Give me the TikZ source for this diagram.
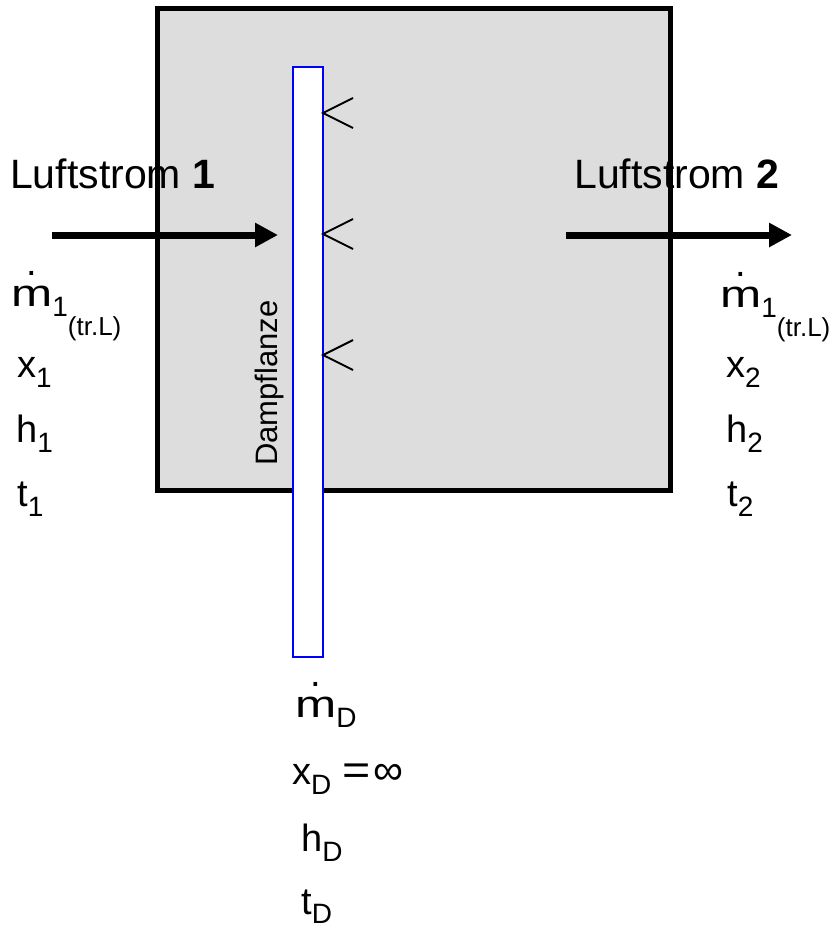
\documentclass[tikz,border=0pt]{standalone}
\usepackage{graphicx}
\usepackage{fontspec}
\setmainfont{Liberation Sans}
\usetikzlibrary{arrows.meta}
\definecolor{boxgray}{RGB}{221,221,221}
\definecolor{flanzeblue}{RGB}{0,0,255}
\newcommand{\fs}[1]{\fontsize{#1}{#1}\selectfont}
\newcommand{\mdot}{{\setbox0\hbox{\scalebox{1.3}[1]{m}}\rlap{\hbox to\wd0{\hss\raisebox{0.8em}{.}\hss}}\box0}}
\newcommand{\lsub}[3]{{\fs{#1}\raisebox{-#2pt}{#3}}}
\begin{document}
\begin{tikzpicture}[x=1pt,y=-1pt,
  lbl/.style={anchor=base west,inner sep=0pt,font=\fs{38}},
  title/.style={anchor=base west,inner sep=0pt,font=\fs{41}},
  flow/.style={line width=7pt,-{Triangle[length=23pt,width=23pt]}},
  chev/.style={line width=2pt,line join=miter}]
\useasboundingbox (0,0) rectangle (832,929);
% chamber
\draw[line width=5pt,fill=boxgray] (157,8) rectangle (670,490);
% steam lance
\draw[line width=2pt,draw=flanzeblue,fill=white] (293,67) rectangle (323,657);
\node[anchor=base west,inner sep=0pt,rotate=90,font=\fs{31}] (lanze) at (277,466) {Dampflanze};
% nozzles
\foreach \yy in {113,234,355}{
  \draw[chev] (353,\yy-15) -- (323,\yy) -- (353,\yy+15);
}
% air streams
\coordinate (a1s) at (52,235);
\coordinate (a1e) at (278,235);
\coordinate (a2s) at (566,235);
\coordinate (a2e) at (792,235);
\draw[flow] (a1s) -- (a1e);
\draw[flow] (a2s) -- (a2e);
\node[title] (l1) at (10,188) {Luftstrom \textbf{1}};
\node[title] (l2) at (574,188) {Luftstrom \textbf{2}};
% inlet state
\node[lbl] (m1) at (11,306) {\mdot\lsub{28}{10}{1}\lsub{26}{29}{(tr.L)}};
\node[lbl] (x1) at (17,377) {x\lsub{28}{10}{1}};
\node[lbl] (h1) at (16,442) {h\lsub{28}{10}{1}};
\node[lbl] (t1) at (17,506) {t\lsub{28}{10}{1}};
% outlet state
\node[lbl] (m2) at (720,307) {\mdot\lsub{28}{10}{1}\lsub{26}{29}{(tr.L)}};
\node[lbl] (x2) at (726,377) {x\lsub{28}{10}{2}};
\node[lbl] (h2) at (726,442) {h\lsub{28}{10}{2}};
\node[lbl] (t2) at (727,506) {t\lsub{28}{10}{2}};
% steam state
\node[lbl] (mD) at (295,717) {\mdot\lsub{28}{10}{D}};
\node[lbl] (xD) at (292,784) {x\lsub{28}{10}{D}\hspace{11pt}{\fs{42}\scalebox{1.15}[1]{=}\hspace{3pt}∞}};
\node[lbl] (hD) at (301,851) {h\lsub{28}{10}{D}};
\node[lbl] (tD) at (301,914) {t\lsub{28}{9}{D}};
\end{tikzpicture}
\end{document}
